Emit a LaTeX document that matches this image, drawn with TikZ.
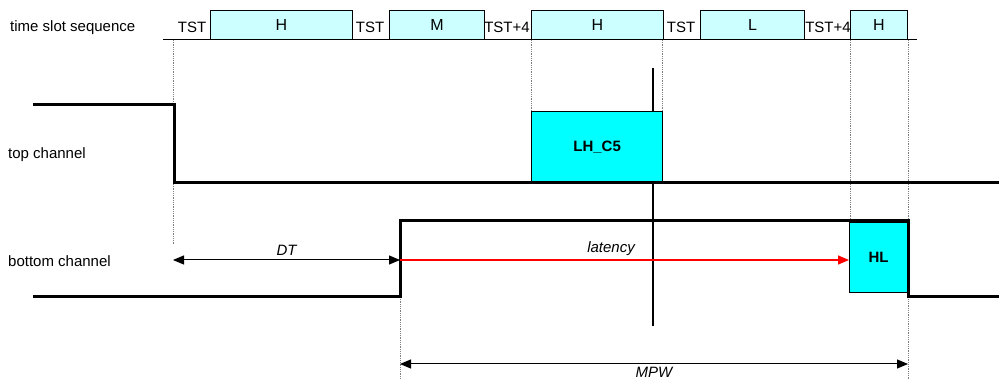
\documentclass[tikz,border=0pt]{standalone}
\usepackage{fontspec}
\setmainfont{Liberation Sans}
\usetikzlibrary{arrows.meta}

\definecolor{slotcyan}{HTML}{CCFFFF}
\definecolor{burstcyan}{HTML}{00FFFF}

\tikzset{
    every node/.style={font=\fontsize{15}{17}\selectfont, inner sep=0pt},
    slot/.style={draw, line width=1pt, fill=slotcyan, minimum height=29pt, anchor=south west, font=\fontsize{16}{18}\selectfont},
    burst/.style={draw, line width=1.3pt, fill=burstcyan, anchor=north west, font=\fontsize{15}{17}\selectfont\bfseries},
    signal/.style={line width=3pt, line join=miter},
    guide/.style={densely dotted, gray, line width=0.8pt},
    span/.style={line width=1pt, {Triangle[length=11pt,width=9pt]}-{Triangle[length=11pt,width=9pt]}},
}

\begin{document}
\begin{tikzpicture}[x=1pt, y=-1pt]
    \useasboundingbox (0,0) rectangle (999,379);

    %% Time slot sequence

    % Labels
    \node[anchor=west] (lseq) at (10,28) {time slot sequence};
    \node[anchor=west] (ltop) at (8,155) {top channel};
    \node[anchor=west] (lbot) at (8,261) {bottom channel};

    % Slots
    \node[slot, minimum width=142pt] (h1) at (210,40) {H};
    \node[slot, minimum width=95pt] (m1) at (389,40) {M};
    \node[slot, minimum width=132pt] (h2) at (531,40) {H};
    \node[slot, minimum width=104pt] (l1) at (700,40) {L};
    \node[slot, minimum width=57pt] (h3) at (850,40) {H};
    \node (t1) at (192,27) {TST};
    \node (t2) at (370,27) {TST};
    \node (t3) at (507,27) {TST+4};
    \node (t4) at (681,27) {TST};
    \node (t5) at (828,27) {TST+4};
    \coordinate (seqL) at (163,40);
    \coordinate (seqR) at (917,40);
    \draw[line width=1pt] (seqL) -- (seqR);

    % Guides
    \draw[guide] (173,40) -- (173,245);
    \draw[guide] (400,297) -- (400,379);
    \draw[guide] (531,40) -- (531,112);
    \draw[guide] (662,40) -- (662,112);
    \draw[guide] (850,40) -- (850,222);
    \draw[guide] (908,40) -- (908,379);

    % Marker
    \coordinate (mkT) at (653,68);
    \coordinate (mkB) at (653,326);
    \draw[line width=1.2pt] (mkT) -- (mkB);

    %% Channels

    % Bursts
    \node[burst, minimum width=131pt, minimum height=71pt] (lh) at (531,111) {LH\_C5};
    \node[burst, minimum width=58pt, minimum height=70pt] (hl) at (849,222) {HL};

    % Top channel
    \draw[signal] (33,105) -- (174,105) -- (174,183) -- (999,183);

    % Bottom channel
    \draw[signal] (33,297) -- (400,297) -- (400,221) -- (908,221) -- (908,297) -- (999,297);

    %% Spans
    \coordinate (dtL) at (173,260);
    \coordinate (dtR) at (400,260);
    \draw[span] (dtL) -- (dtR) node[midway, above=4pt] {\itshape DT};

    \draw[red, line width=1.4pt, -{Triangle[length=11pt,width=9pt]}] (dtR) -- (dtR -| hl.west)
        node[pos=0.47, above=4pt, black] {\itshape latency};

    \coordinate (mpwL) at (400,364);
    \coordinate (mpwR) at (908,364);
    \draw[span] (mpwL) -- (mpwR) node[midway, below=2.5pt] {\itshape MPW};

\end{tikzpicture}
\end{document}
